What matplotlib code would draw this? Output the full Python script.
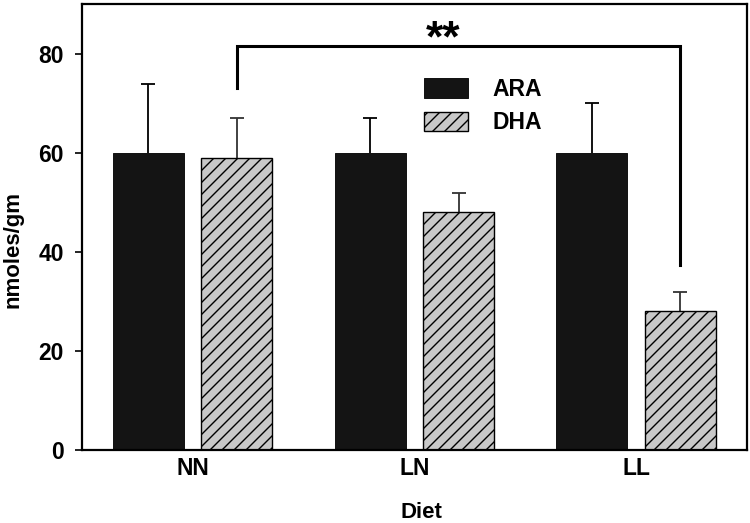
import matplotlib
matplotlib.use("Agg")
import matplotlib.pyplot as plt
import numpy as np

plt.rcParams['font.family'] = ['Liberation Sans', 'DejaVu Sans']
plt.rcParams['font.weight'] = 'bold'

categories = ["NN", "LN", "LL"]
ara_values = [60, 60, 60]
ara_errors = [14, 7, 10]
dha_values = [59, 48, 28]
dha_errors = [8, 4, 4]
y_ticks = [0, 20, 40, 60, 80]

DPI = 72
S = 100 / 72  # scale so sizes match a 100-dpi layout
plt.rcParams['hatch.linewidth'] = 1.0 * S

fig = plt.figure(figsize=(750 / DPI, 523 / DPI), dpi=DPI)
ax = fig.add_axes([0.109, 0.1396, 0.887, 0.852])

x = np.arange(len(categories))
w = 0.32
off = 0.2
ax.bar(x - off, ara_values, w, color='#141414', edgecolor='#141414', label='ARA', zorder=2)
ax.bar(x + off, dha_values, w, color='#c8c8c8', edgecolor='black', linewidth=1.0 * S,
       hatch='//', label='DHA', zorder=2)

for xs, vals, errs, col in [(x - off, ara_values, ara_errors, 'black'),
                            (x + off, dha_values, dha_errors, '#333333')]:
    tops = np.array(vals) + np.array(errs)
    ax.vlines(xs, vals, tops, color=col, lw=1.3 * S, zorder=1)
    ax.plot(xs, tops, ls='none', marker='_', ms=10 * S, mew=1.3 * S, color=col, zorder=1)

# significance bracket
x1 = x[0] + off
x2 = x[2] + off
ax.plot([x1, x1, x2, x2], [73.2, 81.6, 81.6, 37.3], color='black', lw=2.2 * S,
        solid_joinstyle='miter', zorder=3)
ax.text(1.128, 78.6, '**', ha='center', va='bottom', fontsize=32 * S,
        fontweight='bold')

ax.set_xlim(-0.5, 2.5)
ax.set_ylim(0, 90)
ax.set_yticks(y_ticks)
ax.set_xticks(x)
ax.set_xticklabels(categories)
ax.tick_params(axis='y', direction='out', length=5 * S, width=1.2 * S, labelsize=16.5 * S, pad=8 * S)
ax.tick_params(axis='x', length=0, labelsize=16.5 * S, pad=5 * S)
for lab in ax.get_xticklabels() + ax.get_yticklabels():
    lab.set_fontweight('bold')
for s in ax.spines.values():
    s.set_linewidth(1.6 * S)

ax.set_xlabel('Diet', fontsize=16 * S, fontweight='bold')
ax.set_ylabel('nmoles/gm', fontsize=16 * S, fontweight='bold')
ax.yaxis.set_label_coords(-0.087, 0.451)
ax.xaxis.set_label_coords(0.51, -0.117)
ax.xaxis.label.set_va('top')

leg = ax.legend(loc='upper left', bbox_to_anchor=(0.5, 0.855), frameon=False,
                fontsize=16.5 * S, handlelength=1.95, handleheight=0.95, handletextpad=1.05,
                labelspacing=0.45, borderaxespad=0)
for t in leg.get_texts():
    t.set_fontweight('bold')

fig.savefig('out.png', dpi=DPI)
